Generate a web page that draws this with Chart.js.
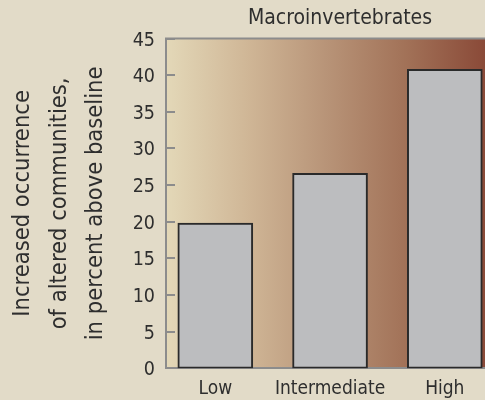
<!DOCTYPE html>
<html>
<head>
<meta charset="utf-8">
<script src="https://cdn.jsdelivr.net/npm/chart.js@4/dist/chart.umd.min.js"></script>
<style>
  html, body { margin: 0; padding: 0; background: #e2dbc8; overflow: hidden; width: 485px; height: 400px; }
  #wrap { width: 514px; height: 400px; }
</style>
</head>
<body>
<div id="wrap"><canvas id="c" width="514" height="400"></canvas></div>
<script>
const categories = ["Low", "Intermediate", "High"];
const values = [19.8, 26.6, 40.8];
const yTicks = [0, 5, 10, 15, 20, 25, 30, 35, 40, 45];
const chartTitle = "Macroinvertebrates";
const yTitle = ["Increased occurrence", "of altered communities,", "in percent above baseline"];

const FONT = '"DejaVu Sans Condensed", "Liberation Sans Narrow", "Liberation Sans", sans-serif';
const TEXT = '#2e2e2e';
const AXIS = '#8c8c8c';

const bgPlugin = {
  id: 'plotBg',
  beforeDraw(chart) {
    const {ctx, chartArea: a} = chart;
    ctx.save();
    const g = ctx.createLinearGradient(a.left, 0, 485, 0);
    g.addColorStop(0.00, '#e3d8b8');
    g.addColorStop(0.25, '#d0b797');
    g.addColorStop(0.50, '#b89478');
    g.addColorStop(0.75, '#a27258');
    g.addColorStop(1.00, '#8a4a38');
    ctx.fillStyle = g;
    ctx.fillRect(a.left, a.top, a.right - a.left, a.bottom - a.top);
    ctx.restore();
  },
  beforeDatasetsDraw(chart) {
    const {ctx, chartArea: a} = chart;
    const y = chart.scales.y;
    ctx.save();
    ctx.strokeStyle = AXIS;
    ctx.lineWidth = 2;
    ctx.beginPath();
    yTicks.forEach(v => {
      const py = Math.round(y.getPixelForValue(v));
      ctx.moveTo(a.left, py);
      ctx.lineTo(a.left + 9, py);
    });
    ctx.moveTo(a.left - 1, a.top);
    ctx.lineTo(a.right, a.top);
    ctx.stroke();
    ctx.restore();
  }
};

new Chart(document.getElementById('c'), {
  type: 'bar',
  data: {
    datasets: [{
      data: values.map((v, i) => ({x: i, y: v})),
      backgroundColor: '#bcbdbf',
      borderColor: '#2a2a2a',
      borderWidth: 2,
      borderSkipped: false,
      barThickness: 75
    }]
  },
  plugins: [bgPlugin],
  options: {
    responsive: false,
    animation: false,
    layout: { padding: 0 },
    plugins: {
      legend: { display: false },
      tooltip: { enabled: false },
      title: {
        display: true,
        text: chartTitle,
        fullSize: false,
        color: TEXT,
        font: { family: FONT, size: 21, weight: 'normal', lineHeight: 1.2 },
        padding: { top: 6.4, bottom: 6.9 }
      }
    },
    scales: {
      x: {
        type: 'linear',
        offset: false,
        min: -0.4296,
        max: 2.603,
        afterBuildTicks: s => { s.ticks = categories.map((_, i) => ({ value: i })); },
        afterFit: s => { s.height = 31.7; },
        grid: { display: false, drawTicks: false, offset: false },
        border: { display: true, color: AXIS, width: 2 },
        ticks: {
          autoSkip: false,
          maxRotation: 0,
          minRotation: 0,
          padding: 9,
          color: TEXT,
          font: { family: FONT, size: 19, lineHeight: 1.2 },
          callback: v => categories[v]
        }
      },
      y: {
        min: 0,
        max: 45,
        afterBuildTicks: s => { s.ticks = yTicks.map(v => ({ value: v })); },
        afterFit: s => { s.width = 166; },
        grid: { display: false, drawTicks: false },
        border: { display: true, color: AXIS, width: 2 },
        ticks: {
          padding: 11,
          labelOffset: 2,
          color: TEXT,
          font: { family: FONT, size: 19.5, lineHeight: 1.2 }
        },
        title: {
          display: true,
          text: yTitle,
          color: TEXT,
          font: { family: FONT, size: 23.5, lineHeight: 1.55 },
          padding: { top: 4.8, bottom: 0 }
        }
      }
    }
  }
});
</script>
</body>
</html>
